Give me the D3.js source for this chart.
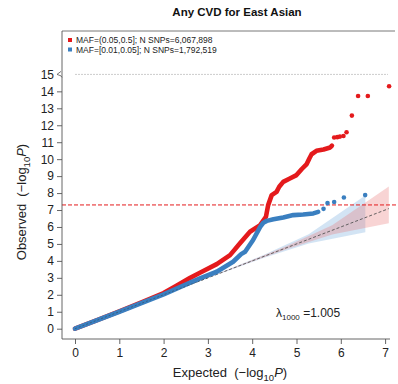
<!DOCTYPE html>
<html>
<head>
<meta charset="utf-8">
<script src="https://cdn.jsdelivr.net/npm/d3@7"></script>
<style>
  html, body { margin: 0; padding: 0; background: #fff; }
  svg { display: block; font-family: "Liberation Sans", Arial, Helvetica, sans-serif; }
  .pre { white-space: pre; }
</style>
</head>
<body>
<svg id="chart" width="398" height="384"></svg>
<script>
// QQ plot of GWAS p-values, split by minor allele frequency bin
const title = "Any CVD for East Asian";
const seriesNames = ["MAF=(0.05,0.5]; N SNPs=6,067,898", "MAF=[0.01,0.05]; N SNPs=1,792,519"];
const seriesColors = ["#e41a1c", "#3a7fc0"];
const xTicks = [0, 1, 2, 3, 4, 5, 6, 7];
const yTicks = [0, 1, 2, 3, 4, 5, 6, 7, 8, 9, 10, 11, 12, 13, 14, 15];
const gwsThreshold = 7.3;
const capLevel = 15;
const lambdaValue = "1.005";

// dense part of each QQ curve: [expected, observed]
const commonCurve = [[0,0],[0.5,0.5],[1,1.02],[1.5,1.55],[2,2.1],[2.3,2.55],[2.6,3.0],[2.82,3.3],[3.2,3.81],[3.5,4.34],[3.72,5.03],[3.95,5.72],[4.18,6.11],[4.31,6.6],[4.36,7.29],[4.44,7.88],[4.55,8.07],[4.61,8.37],[4.70,8.66],[4.85,8.86],[5.0,9.06],[5.12,9.42],[5.23,9.71],[5.29,10.04],[5.34,10.29],[5.45,10.49],[5.61,10.57],[5.76,10.69],[5.80,10.8]];
const commonTail = [[5.85,11.28],[5.92,11.30],[5.98,11.33],[6.06,11.37],[6.13,11.59],[6.25,12.57],[6.39,13.73],[6.61,13.73],[7.09,14.3]];
const lowCurve = [[0,0],[1,1.0],[2,2.02],[2.6,2.72],[2.82,2.97],[3.2,3.36],[3.57,3.95],[3.75,4.4],[3.84,4.54],[4.02,5.23],[4.18,6.01],[4.25,6.25],[4.33,6.36],[4.48,6.45],[4.70,6.56],[4.93,6.70],[5.15,6.74],[5.38,6.80],[5.49,6.89]];
const lowTail = [[5.61,7.07],[5.70,7.41],[5.85,7.47],[6.07,7.74],[6.55,7.88]];

// 95% bands: [expected, lower, upper]
const commonBand = [[2.8,2.8,2.8],[3.78,3.757,3.81],[4.785,4.70,4.875],[5.805,5.55,6.10],[7.084,6.217,8.384]];
const lowBand = [[2.25,2.25,2.25],[3.254,3.228,3.281],[4.255,4.172,4.343],[5.275,5.02,5.57],[6.554,5.687,7.854]];

const svg = d3.select("#chart");
const x = d3.scaleLinear().domain([0, 7]).range([75, 385.1]);
const y = d3.scaleLinear().domain([0, 15]).range([328.7, 74.4]);

const frameLeft = 62, frameBottom = 339, frameTop = 31, frameRight = 395;

// title
svg.append("text").attr("x", 237).attr("y", 16).attr("text-anchor", "middle")
  .attr("font-size", 11.5).attr("font-weight", "bold").attr("fill", "#111").text(title);

// frame line along the top
svg.append("line").attr("x1", frameLeft).attr("x2", frameRight).attr("y1", frameTop).attr("y2", frameTop)
  .attr("stroke", "#555").attr("stroke-width", 0.8);

// bands
const area = d3.area().x(d => x(d[0])).y0(d => y(d[1])).y1(d => y(d[2]));
svg.append("path").datum(lowBand).attr("d", area).attr("fill", "#9ec3e6").attr("fill-opacity", 0.45);
svg.append("path").datum(commonBand).attr("d", area).attr("fill", "#e8706f").attr("fill-opacity", 0.3);

// cap line and threshold
svg.append("line").attr("x1", x(0)).attr("x2", 388).attr("y1", y(capLevel)).attr("y2", y(capLevel))
  .attr("stroke", "#ccc").attr("stroke-width", 1).attr("stroke-dasharray", "2,1");
svg.append("line").attr("x1", frameLeft).attr("x2", 396).attr("y1", y(gwsThreshold)).attr("y2", y(gwsThreshold))
  .attr("stroke", "#e41a1c").attr("stroke-width", 1).attr("stroke-dasharray", "4,2");

// null line
svg.append("line").attr("x1", x(0)).attr("y1", y(0)).attr("x2", x(7.084)).attr("y2", y(7.084))
  .attr("stroke", "#555").attr("stroke-width", 0.9).attr("stroke-dasharray", "3,2");

// QQ curves
const line = d3.line().x(d => x(d[0])).y(d => y(d[1]));
function drawSeries(curve, tail, color) {
  svg.append("path").datum(curve).attr("d", line).attr("fill", "none")
    .attr("stroke", color).attr("stroke-width", 4.6).attr("stroke-linejoin", "round").attr("stroke-linecap", "round");
  svg.selectAll(null).data(tail).enter().append("circle")
    .attr("cx", d => x(d[0])).attr("cy", d => y(d[1])).attr("r", 2.3).attr("fill", color);
}
drawSeries(commonCurve, commonTail, seriesColors[0]);
drawSeries(lowCurve, lowTail, seriesColors[1]);

// null line shows faintly through the curves near the origin
svg.append("line").attr("x1", x(0)).attr("y1", y(0)).attr("x2", x(3)).attr("y2", y(3))
  .attr("stroke", "#333").attr("stroke-width", 0.7).attr("stroke-dasharray", "2,2").attr("opacity", 0.6);

// axes
const xAxis = d3.axisBottom(x).tickValues(xTicks).tickSize(5).tickPadding(4).tickFormat(d3.format("d"));
const gx = svg.append("g").attr("transform", `translate(0,${frameBottom})`).call(xAxis);
gx.select(".domain").remove();
gx.append("line").attr("x1", frameLeft).attr("x2", 390).attr("stroke", "#555").attr("stroke-width", 0.9);

const yAxis = d3.axisLeft(y).tickValues(yTicks).tickSize(5).tickPadding(3).tickFormat(d3.format("d"));
const gy = svg.append("g").attr("transform", `translate(${frameLeft},0)`).call(yAxis);
gy.select(".domain").remove();
gy.append("line").attr("y1", frameTop).attr("y2", frameBottom).attr("stroke", "#555").attr("stroke-width", 0.9);
gy.selectAll(".tick").filter(d => d === capLevel).select("line").remove();
// axis break mark at the cap level
gy.append("path").attr("d", `M-1,${y(capLevel) - 3} L-5,${y(capLevel)} L-1,${y(capLevel) + 1.5} L0,${y(capLevel) + 3}`)
  .attr("fill", "none").attr("stroke", "#555").attr("stroke-width", 0.8);

[gx, gy].forEach(g => {
  g.selectAll(".tick line").attr("stroke", "#555").attr("stroke-width", 0.9);
  g.selectAll(".tick text").attr("font-size", 12).attr("fill", "#222")
    .attr("font-family", "Liberation Sans, Arial, sans-serif");
});

// axis titles
function axisTitle(sel, word) {
  sel.attr("class", "pre").attr("font-size", 13).attr("fill", "#222");
  sel.append("tspan").text(word + "  (\u2212log");
  sel.append("tspan").attr("font-size", 9.5).attr("dy", 3.5).text("10");
  sel.append("tspan").attr("dy", -3.5).attr("font-style", "italic").text("P");
  sel.append("tspan").text(")");
}
axisTitle(svg.append("text").attr("x", 230).attr("y", 377).attr("text-anchor", "middle"), "Expected");
axisTitle(svg.append("text").attr("transform", "translate(26,202) rotate(-90)").attr("text-anchor", "middle"), "Observed");

// legend
const legend = svg.append("g");
seriesNames.forEach((name, i) => {
  legend.append("rect").attr("x", 68).attr("y", 38 + i * 9.5).attr("width", 4).attr("height", 4)
    .attr("fill", seriesColors[i]);
  legend.append("text").attr("x", 76).attr("y", 43 + i * 9.5).attr("font-size", 8.5).attr("fill", "#222").text(name);
});

// genomic inflation
const lt = svg.append("text").attr("x", 276).attr("y", 317).attr("font-size", 12).attr("fill", "#222");
lt.append("tspan").text("\u03bb");
lt.append("tspan").attr("font-size", 8).attr("dy", 3).text("1000");
lt.append("tspan").attr("dy", -3).text(" =" + lambdaValue);
</script>
</body>
</html>
